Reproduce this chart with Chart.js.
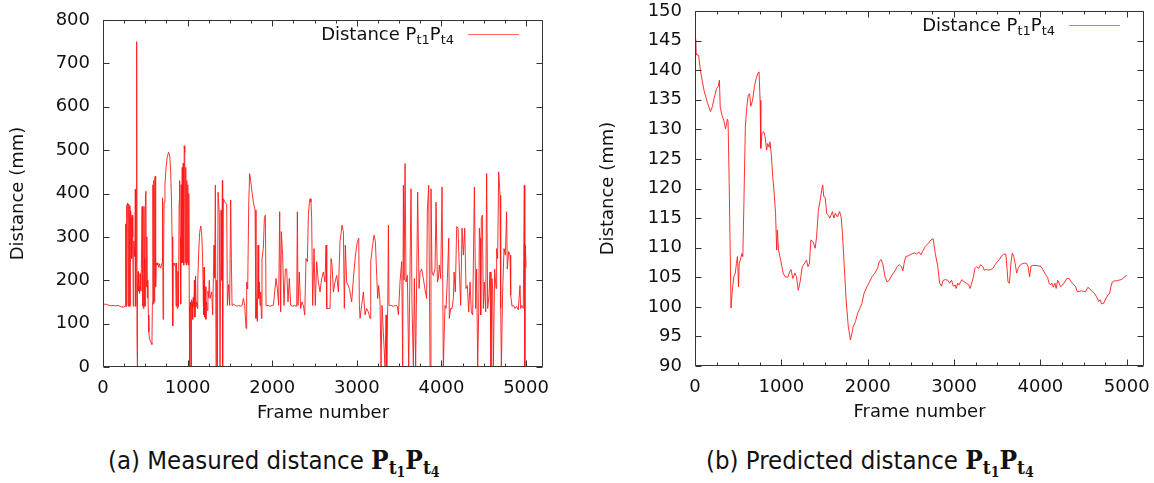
<!DOCTYPE html>
<html><head><meta charset="utf-8">
<script src="https://cdn.jsdelivr.net/npm/chart.js@4.4.1/dist/chart.umd.min.js"></script>
<style>
body{margin:0;background:#fff;width:1154px;height:483px;position:relative;overflow:hidden;}
.box{position:absolute;top:0;width:577px;height:440px;}
#boxA{left:0}#boxB{left:577px}
.cap{position:absolute;top:444px;font-family:"DejaVu Sans Condensed","Liberation Sans Narrow","DejaVu Sans",sans-serif;font-stretch:condensed;font-size:25.5px;color:#111;white-space:nowrap;line-height:32px;}
.m{font-family:"DejaVu Serif",serif;font-weight:bold;font-size:26px;}
.s1{font-size:19px;position:relative;top:5px;}
.s2{font-size:14px;position:relative;top:3px;}
</style></head><body>
<div class="box" id="boxA"><canvas id="ca" width="577" height="440"></canvas></div>
<div class="box" id="boxB"><canvas id="cb" width="577" height="440"></canvas></div>
<div class="cap" style="left:108px">(a) Measured distance <span class="m">P<span class="s1">t<span class="s2">1</span></span>P<span class="s1">t<span class="s2">4</span></span></span></div>
<div class="cap" style="left:706px">(b) Predicted distance <span class="m">P<span class="s1">t<span class="s2">1</span></span>P<span class="s1">t<span class="s2">4</span></span></span></div>
<script>
// ---- data ----
const measuredFrames = [0,30,60,90,120,150,180,210,240,262,268,272,278,284,290,296,302,310,318,326,334,340,346,352,358,364,370,376,382,386,392,398,402,405,409,414,420,426,432,438,444,450,462,466,472,478,484,490,496,502,508,512,518,524,530,536,542,550,560,570,578,584,590,594,600,606,612,618,622,628,638,648,658,668,678,688,698,704,710,716,722,732,745,760,775,790,800,810,816,824,830,840,850,858,864,870,878,886,892,900,906,912,918,924,930,936,942,948,954,960,966,972,978,984,990,996,1002,1008,1014,1020,1025,1030,1036,1040,1046,1054,1060,1066,1074,1080,1086,1094,1100,1108,1114,1120,1130,1142,1156,1168,1176,1182,1188,1194,1200,1208,1216,1224,1232,1240,1248,1256,1265,1285,1296,1312,1320,1328,1336,1344,1352,1360,1375,1383,1395,1404,1411,1414,1422,1442,1462,1470,1485,1497,1509,1517,1525,1545,1565,1585,1605,1625,1645,1659,1675,1690,1698,1710,1722,1733,1745,1761,1777,1797,1808,1816,1824,1832,1840,1848,1856,1864,1872,1879,1895,1907,1919,1927,1950,1975,2000,2013,2029,2045,2060,2076,2088,2100,2108,2123,2139,2155,2171,2186,2202,2218,2240,2265,2289,2297,2305,2320,2336,2352,2368,2384,2399,2415,2427,2439,2447,2458,2466,2478,2494,2509,2525,2545,2565,2584,2604,2624,2636,2644,2668,2683,2695,2707,2723,2742,2762,2782,2801,2825,2841,2852,2864,2880,2912,2939,2959,2983,3006,3022,3030,3038,3057,3077,3097,3116,3136,3156,3164,3187,3203,3219,3235,3246,3258,3274,3286,3298,3313,3333,3345,3353,3365,3373,3380,3400,3430,3460,3479,3491,3510,3530,3542,3550,3558,3570,3581,3597,3613,3628,3640,3652,3668,3680,3695,3719,3735,3747,3766,3786,3810,3825,3833,3849,3865,3876,3888,3904,3924,3936,3952,3963,3975,3991,4007,4022,4042,4054,4070,4086,4093,4109,4125,4141,4149,4164,4180,4196,4212,4227,4243,4259,4275,4290,4306,4322,4338,4353,4369,4389,4405,4416,4428,4440,4448,4456,4464,4471,4483,4495,4507,4523,4534,4546,4562,4574,4585,4597,4605,4613,4629,4645,4652,4664,4676,4684,4692,4700,4708,4723,4739,4755,4770,4778,4794,4810,4818,4834,4849,4869,4888,4908,4928,4936,4948,4967,4979,4985,4991,5000];
const measuredValues = [144,145,143,141,142,141,142,139,138,140,330,140,370,375,378,140,376,372,140,360,345,250,350,300,140,290,270,255,410,140,240,750,70,0,180,220,175,185,170,215,180,175,370,140,365,135,370,250,140,400,405,185,300,160,200,120,80,65,60,55,52,150,420,145,430,150,435,440,185,240,235,240,230,238,228,232,240,390,110,250,380,420,460,485,495,485,450,380,300,95,240,235,240,230,140,240,135,220,140,380,430,300,145,420,240,460,240,470,235,510,495,240,460,235,430,240,420,235,400,140,0,150,140,0,155,150,110,160,140,200,115,210,140,150,135,200,260,310,325,300,260,200,120,230,115,185,110,150,130,175,160,200,158,173,120,281,205,419,0,200,0,403,350,0,362,200,430,0,388,380,375,142,190,142,385,250,142,145,142,140,142,140,142,158,142,89,196,180,373,446,430,403,380,362,112,158,105,281,158,196,142,173,112,250,273,343,350,142,142,140,142,142,173,204,181,142,358,127,312,258,142,226,226,150,204,142,140,142,140,358,142,219,135,150,142,120,250,243,350,380,388,380,343,142,273,142,243,196,173,204,219,196,281,135,135,135,250,235,173,196,211,173,289,327,312,135,281,196,181,150,204,258,289,297,142,112,142,173,120,135,127,112,243,281,304,289,211,158,188,150,0,142,80,0,120,0,142,327,142,142,140,142,140,120,196,243,0,419,200,469,196,211,0,219,411,142,0,204,0,403,181,219,226,204,173,158,362,419,0,411,219,211,226,380,196,204,235,204,415,0,142,135,204,297,112,135,135,158,219,173,324,320,219,142,320,258,320,181,188,127,196,127,120,415,135,226,0,127,320,297,120,343,350,135,196,127,446,135,166,219,0,204,181,0,226,181,273,250,450,427,396,135,0,173,273,258,358,226,266,258,166,140,142,135,140,132,188,135,142,135,419,0,281,230];

const predictedFrames = [0,8,12,20,42,62,104,146,179,200,221,250,271,283,292,312,333,354,375,383,396,408,417,429,450,467,479,492,504,512,525,542,554,567,583,600,617,633,646,667,688,708,729,742,754,762,775,796,813,829,842,858,867,883,900,917,933,946,954,967,992,1021,1042,1075,1096,1112,1133,1158,1175,1196,1217,1242,1267,1292,1308,1325,1342,1367,1392,1408,1429,1450,1467,1479,1492,1508,1525,1542,1562,1575,1592,1608,1625,1650,1675,1692,1708,1729,1750,1775,1800,1817,1833,1858,1883,1908,1933,1958,1992,2021,2050,2083,2113,2133,2154,2175,2200,2225,2250,2283,2317,2342,2367,2392,2408,2425,2442,2467,2492,2517,2542,2567,2592,2617,2633,2667,2700,2733,2758,2783,2812,2833,2854,2875,2900,2925,2950,2971,2992,3012,3025,3042,3058,3075,3092,3117,3142,3167,3187,3208,3225,3242,3262,3283,3308,3333,3350,3375,3400,3425,3450,3475,3500,3525,3550,3575,3600,3612,3625,3642,3658,3675,3692,3708,3725,3742,3767,3792,3817,3842,3858,3875,3892,3917,3950,3983,4008,4033,4058,4083,4100,4117,4133,4150,4167,4183,4200,4217,4233,4258,4283,4308,4333,4358,4383,4408,4425,4450,4475,4500,4525,4550,4575,4600,4625,4650,4675,4692,4708,4733,4758,4783,4800,4817,4833,4858,4883,4908,4933,4958,4983,5000];
const predictedValues = [143,145.2,142.8,142.6,142.5,140,136.6,134.4,133,133.8,135.2,136.9,137.3,138.3,133.8,132.4,131.5,130.1,131.7,131.3,120.9,109,99.8,102.3,105.1,105.7,107.3,108.5,103.4,107.3,107.9,109,108.5,118,130.4,133.8,135.8,136,133.9,134.9,137.2,138.6,139.5,139.7,134.9,126.8,129.3,129.6,128.7,126.5,127.6,127,127.9,125.9,122,119.2,115.8,109.6,113,109.6,107.9,105.7,105.1,105,105.9,106.3,104.8,105.7,105.1,102.8,104.2,106.8,107.3,107.9,106.8,107.3,111.3,111,109.9,111.8,116.3,118,119.7,120.6,118.6,118.5,115.8,115.5,115,115.5,116.1,115,115.8,115.2,116.1,115.2,112.4,106.8,101.2,96.7,94.4,95.5,96.7,97.5,98.9,99.7,100.6,102.3,103.4,104.2,105.1,105.7,106.5,107.6,108,107.3,105.1,104.2,104.5,105.4,106.1,106.8,107.1,106.8,106.1,107.6,108.5,108.6,108.8,109,109.1,108.9,109.3,108.8,109.3,110.2,110.7,111.3,111.5,109,106.8,104,103.5,104.5,104.6,104.5,104,104.5,103.5,103.7,103.1,104,103.7,104.2,104.6,104.2,104,103.8,103.1,104.2,105.1,106.5,106.8,106.5,107.1,106.8,106.2,106.3,106.2,106.3,106.5,107.1,107.6,108,108.6,108.9,108.9,106.8,104.2,104,107.3,109.1,108.5,107.3,105.7,106.5,107.1,107.3,107.4,107.3,106.8,105.1,106.9,107,107,106.9,106.8,106.2,105.5,105,104,103.7,104,103.3,104,103.1,104.5,104,103.4,103.7,104.2,104.8,104.8,104.2,103.8,103.4,102.6,102.6,102.7,102.6,102.6,103.3,103,102.6,102.3,101.7,100.9,101.2,100.5,100.6,101.4,102,102.2,103.4,104.2,104.4,104.4,104.5,104.6,104.8,105.2,105.3];

const frameTicks = [0,1000,2000,3000,4000,5000];
const measuredTicks = [0,100,200,300,400,500,600,700,800];
const predictedTicks = [90,95,100,105,110,115,120,125,130,135,140,145,150];
const seriesName = ['Distance P', 't1', 'P', 't4'];
const xTitle = 'Frame number';
const yTitle = 'Distance (mm)';

// ---- drawing ----
Chart.defaults.font.family = '"DejaVu Sans", sans-serif';
Chart.defaults.font.size = 18;
Chart.defaults.color = '#111';
const RED = '#ff1a1a';

const framePlugin = {
  id: 'gpframe',
  afterDatasetsDraw(chart) {
    const {ctx, chartArea: a, scales: {x, y}} = chart;
    ctx.save();
    ctx.strokeStyle = '#333';
    ctx.lineWidth = 1;
    const L = Math.round(a.left) + 0.5, R = Math.round(a.right) - 0.5,
          T = Math.round(a.top) + 0.5, B = Math.round(a.bottom) - 0.5;
    ctx.beginPath();
    ctx.rect(L, T, R - L, B - T);
    for (let v = x.min; v <= x.max; v += 250) {
      const p = Math.round(x.getPixelForValue(v)) + 0.5;
      const len = frameTicks.includes(v) ? 6 : 3;
      ctx.moveTo(p, B); ctx.lineTo(p, B - len);
      ctx.moveTo(p, T); ctx.lineTo(p, T + len);
    }
    y.ticks.forEach(t => {
      const p = Math.round(y.getPixelForValue(t.value)) + 0.5;
      ctx.moveTo(L, p); ctx.lineTo(L + 6, p);
      ctx.moveTo(R, p); ctx.lineTo(R - 6, p);
    });
    ctx.stroke();
    // legend: text then line sample, right-aligned
    const lineEnd = a.right - 24, lineStart = lineEnd - 51, ly = Math.round(a.top + 14) + 0.5;
    ctx.strokeStyle = 'rgba(255,40,40,0.7)';
    ctx.beginPath(); ctx.moveTo(lineStart, ly); ctx.lineTo(lineEnd, ly); ctx.stroke();
    const big = '18px "DejaVu Sans"', small = '13px "DejaVu Sans"';
    const parts = [[seriesName[0], big, 0], [seriesName[1], small, 4], [seriesName[2], big, 0], [seriesName[3], small, 4]];
    let w = 0;
    parts.forEach(p => { ctx.font = p[1]; w += ctx.measureText(p[0]).width; });
    let tx = lineStart - 14 - w; const base = a.top + 19.5;
    ctx.fillStyle = '#111'; ctx.textBaseline = 'alphabetic'; ctx.textAlign = 'left';
    parts.forEach(p => { ctx.font = p[1]; ctx.fillText(p[0], tx, base + p[2]); tx += ctx.measureText(p[0]).width; });
    ctx.restore();
  }
};

function makeChart(id, frames, values, yTicks, ymin, ymax, geo) {
  const pts = frames.map((f, i) => ({x: f, y: values[i]}));
  return new Chart(document.getElementById(id), {
    type: 'line',
    data: {datasets: [{data: pts, borderColor: RED, borderWidth: 0.9, pointRadius: 0, tension: 0, fill: false}]},
    options: {
      responsive: false, animation: false, events: [],
      layout: {padding: {left: 0, right: geo.right, top: geo.top, bottom: geo.bottom}},
      plugins: {legend: {display: false}, tooltip: {enabled: false}},
      scales: {
        x: {
          type: 'linear', min: 0, max: 5200,
          afterBuildTicks: s => { s.ticks = frameTicks.map(v => ({value: v})); },
          afterFit: s => { s.height = geo.xh; s.paddingLeft = 0; s.paddingRight = 0; },
          grid: {display: false, drawTicks: false}, border: {display: false},
          ticks: {padding: geo.xpad, maxRotation: 0, autoSkip: false, color: '#111', callback: v => String(v)},
          title: {display: true, text: xTitle, color: '#111', padding: {top: 0, bottom: 0}}
        },
        y: {
          min: ymin, max: ymax,
          afterBuildTicks: s => { s.ticks = yTicks.map(v => ({value: v})); },
          afterFit: s => { s.width = geo.yw; s.paddingTop = 0; s.paddingBottom = 0; },
          grid: {display: false, drawTicks: false}, border: {display: false},
          ticks: {padding: 13, autoSkip: false, color: '#111', callback: v => String(v)},
          title: {display: true, text: yTitle, color: '#111', padding: {top: geo.ytp, bottom: 0}}
        }
      }
    },
    plugins: [framePlugin]
  });
}

makeChart('ca', measuredFrames, measuredValues, measuredTicks, 0, 800,
  {right: 34, top: 20, bottom: 16, xh: 57, yw: 103, ytp: 7.5, xpad: 11});
makeChart('cb', predictedFrames, predictedValues, predictedTicks, 90, 150,
  {right: 10, top: 11, bottom: 17, xh: 57, yw: 118, ytp: 21, xpad: 11});
</script>
</body></html>
